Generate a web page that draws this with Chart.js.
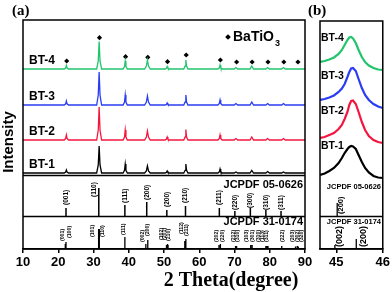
<!DOCTYPE html>
<html>
<head>
<meta charset="utf-8">
<script src="https://cdn.jsdelivr.net/npm/chart.js@4.4.1/dist/chart.umd.min.js"></script>
<style>
body { margin: 0; background: #fff; }
#wrap { position: relative; width: 392px; height: 292px; background: #fff; }
canvas { position: absolute; left: 0; top: 0; }
</style>
</head>
<body>
<div id="wrap">
<canvas id="chartA" width="392" height="292"></canvas>
<canvas id="chartB" width="392" height="292"></canvas>
</div>
<script>
// ---- panel (a) patterns, 2theta in degrees, intensity above each baseline ----
const theta = [10,
  21.7, 22.1, 22.3, 22.5, 22.9,
  30.9, 31.35, 31.6, 31.85, 32.3,
  38.4, 38.8, 39.0, 39.2, 39.6,
  44.5, 45.0, 45.3, 45.6, 46.1,
  50.3, 50.7, 50.9, 51.1, 51.5,
  55.6, 56.0, 56.2, 56.4, 56.8,
  65.3, 65.7, 65.9, 66.1, 66.5,
  69.9, 70.4, 70.9,
  74.4, 74.9, 75.4,
  78.9, 79.4, 79.9,
  83.4, 83.9, 84.4,
  90];
const bt1 = [0, 0,1,3,1,0, 0,8,27,8,0, 0,2.7,9,2.7,0, 0,2,7,2,0, 0,0.6,2,0.6,0, 0,2.7,9,2.7,0, 0,1.2,4,1.2,0, 0,1,0, 0,2.5,0, 0,1.5,0, 0,1,0, 0];
const bt2 = [0, 0,1.5,5,1.5,0, 0,10,33,10,0, 0,3,10,3,0, 0,3,9,3,0, 0,1,3,1,0, 0,3,10.5,3,0, 0,1.5,5,1.5,0, 0,1.5,0, 0,3,0, 0,1.5,0, 0,1.5,0, 0];
const bt3 = [0, 0,1.2,4,1.2,0, 0,10,33,10,0, 0,3,10,3,0, 0,3,9,3,0, 0,0.6,2,0.6,0, 0,3,10,3,0, 0,1.5,5,1.5,0, 0,1.5,0, 0,3,0, 0,1.5,0, 0,1.5,0, 0];
const bt4 = [0, 0,1,3.5,1,0, 0,8,27.5,8,0, 0,2.5,8,2.5,0, 0,3,9,3,0, 0,0.8,2.5,0.8,0, 0,3,9,3,0, 0,1.2,4,1.2,0, 0,1.5,0, 0,3,0, 0,1.5,0, 0,1.5,0, 0];
const names = ["BT-1", "BT-2", "BT-3", "BT-4"];
const offsets = [76, 109, 144, 180];

// BaTiO3 markers over BT-4
const diamondX = [22.4, 31.7, 39.1, 45.4, 51.0, 56.3, 66.0, 70.6, 75.0, 79.5, 84.0, 88.0];
const diamondY = [188, 211.3, 192.3, 191.7, 187.3, 194, 189, 187, 187, 187, 187, 187];

// JCPDF 05-0626 (cubic)
const cubicPos = [22.2, 31.5, 38.9, 45.1, 50.8, 56.1, 65.7, 70.1, 74.5, 78.9, 83.2];
const cubicH = [8, 28, 11, 14, 6, 10, 8, 5, 8, 6, 5];
const cubicHkl = ["(001)", "(110)", "(111)", "(200)", "(200)", "(210)", "(211)", "(220)", "(300)", "(310)", "(311)"];
const cubicLabelX = [22.2, 30.3, 38.9, 45.1, 50.8, 56.1, 65.7, 70.1, 74.5, 78.9, 83.2];
const cubicLabelY = [44, 52, 46, 49, 42, 46, 44, 39, 41, 39, 39];

// JCPDF 31-0174 (tetragonal)
const tetraPos = [22.0, 22.2, 31.45, 31.65, 38.9, 44.85, 45.4, 50.7, 51.0, 51.15, 55.9, 56.2, 65.6, 66.0, 70.3, 70.6, 74.6, 75.0, 78.9, 79.2, 79.5, 83.4, 87.3, 87.8, 88.1];
const tetraH = [5, 7, 20, 20, 12, 5, 9, 4, 5, 4, 8, 10, 4, 5, 3, 3, 4, 4, 3, 3, 3, 3, 2.5, 3, 2.5];
const tetraHkl = ["(001)", "(100)", "(101)", "(110)", "(111)", "(002)", "(200)", "(102)", "(201)", "(210)", "(112)", "(211)", "(202)", "(220)", "(212)", "(310)", "(103)", "(301)", "(310)", "(113)", "(311)", "(222)", "(203)", "(302)", "(320)"];
const tetraLabelX = [21.3, 23.1, 29.8, 32.6, 38.4, 43.9, 45.3, 49.2, 50.3, 51.4, 55.0, 56.4, 65.0, 66.5, 69.6, 71.0, 73.3, 75.0, 76.7, 78.1, 79.2, 83.5, 86.6, 88.0, 89.1];
const tetraLabelY = [8, 11, 12, 12, 14, 7, 13, 9, 9, 8, 15, 13, 7, 7, 7, 7, 7, 7, 7, 7, 7, 7, 7, 7, 7];

const ticksA = [10, 20, 30, 40, 50, 60, 70, 80, 90];
const dividers = [33, 74];

// ---- panel (b) zoom on the 45 degree peak ----
const thetaB = [44.65, 44.75, 44.85, 44.95, 45.05, 45.12, 45.18, 45.24, 45.28, 45.32, 45.36, 45.42, 45.48, 45.55, 45.62, 45.70, 45.80, 45.90, 46.0];
const bt1B = [3, 4.5, 7, 10, 15, 20, 25, 29, 31, 32, 31.5, 29, 23, 16, 10, 5.5, 2, 0.5, 0];
const bt2B = [5, 6, 8, 10, 14, 18, 24, 31, 38, 42, 42.5, 39, 31, 21, 13, 7, 3, 1, 0];
const bt3B = [8, 9, 10.5, 12.5, 16, 19.5, 24, 31, 36, 39.5, 40, 37, 29, 20, 13, 8, 4, 1.5, 0];
const bt4B = [8, 9, 10.5, 12.5, 16, 20, 25, 30, 32.5, 33, 31.5, 27, 20, 13, 8, 4.5, 2, 0.5, 0];
const offsetsB = [71, 106, 141, 179];
const cubicBPos = [45.02];
const cubicBH = [13];
const tetraBPos = [44.97, 45.43];
const tetraBH = [4, 10];
const tetraBHkl = ["(002)", "(200)"];
const tetraBLabelX = [45.08, 45.59];
const ticksB = [45, 46];

const colors = ["#000000", "#f5163f", "#2b3cf3", "#22c46c"];
const SANS = '"Liberation Sans", Arial, sans-serif';
const SERIF = '"Liberation Serif", "Times New Roman", serif';

function pattern(xs, ys, off) {
  return xs.map((t, i) => ({ x: t, y: ys[i] + off }));
}

function sticks(pos, h, base) {
  const pts = [];
  pos.forEach((p, i) => {
    pts.push({ x: p, y: base }, { x: p, y: base + h[i] }, { x: p, y: null });
  });
  return pts;
}

function put(ctx, s, x, y, size, o) {
  o = o || {};
  ctx.save();
  ctx.translate(x, y);
  if (o.rot) ctx.rotate(o.rot);
  ctx.font = "bold " + size + "px " + (o.serif ? SERIF : SANS);
  ctx.textAlign = o.align || "left";
  ctx.textBaseline = o.base || "middle";
  ctx.fillStyle = "#000";
  ctx.fillText(s, 0, 0);
  ctx.restore();
}

function frame(chart) {
  const { ctx, chartArea: a } = chart;
  ctx.save();
  ctx.strokeStyle = "#000";
  ctx.lineWidth = 1.5;
  ctx.strokeRect(a.left, a.top, a.right - a.left, a.bottom - a.top);
  ctx.restore();
}

function hline(chart, v) {
  const { ctx, chartArea: a, scales: { y } } = chart;
  const py = Math.round(y.getPixelForValue(v)) + 0.5;
  ctx.save();
  ctx.strokeStyle = "#000";
  ctx.lineWidth = 1.5;
  ctx.beginPath();
  ctx.moveTo(a.left, py);
  ctx.lineTo(a.right, py);
  ctx.stroke();
  ctx.restore();
}

const annotA = {
  id: "annotA",
  afterDraw(chart) {
    const { ctx, scales: { x, y } } = chart;
    frame(chart);
    dividers.forEach(v => hline(chart, v));
    put(ctx, "(a)", 12, 11, 15, { serif: true });
    put(ctx, "Intensity", 9, 142, 15, { rot: -Math.PI / 2, align: "center" });
    put(ctx, "2 Theta(degree)", 231, 286, 20, { serif: true, align: "center", base: "alphabetic" });
    names.forEach((n, i) => put(ctx, n, x.getPixelForValue(11.7), y.getPixelForValue(offsets[i] + 8.5), 12));
    // legend
    ctx.save();
    ctx.fillStyle = "#000";
    ctx.translate(228, 37);
    ctx.rotate(Math.PI / 4);
    ctx.fillRect(-2, -2, 4, 4);
    ctx.restore();
    ctx.save();
    ctx.font = "bold 14px " + SANS;
    const w = ctx.measureText("BaTiO").width;
    ctx.restore();
    put(ctx, "BaTiO", 233, 37, 14);
    put(ctx, "3", 234 + w, 44, 9);
    put(ctx, "JCPDF 05-0626", 303, 185, 11, { align: "right" });
    put(ctx, "JCPDF 31-0174", 303, 222, 11, { align: "right" });
    cubicHkl.forEach((s, i) => put(ctx, s, x.getPixelForValue(cubicLabelX[i]), y.getPixelForValue(cubicLabelY[i]), 6.5, { rot: -Math.PI / 2 }));
    tetraHkl.forEach((s, i) => put(ctx, s, x.getPixelForValue(tetraLabelX[i]), y.getPixelForValue(tetraLabelY[i]), 5.2, { rot: -Math.PI / 2 }));
  }
};

const annotB = {
  id: "annotB",
  afterDraw(chart) {
    const { ctx, chartArea: a, scales: { x, y } } = chart;
    frame(chart);
    hline(chart, dividers[0]);
    put(ctx, "(b)", 308, 11, 15, { serif: true });
    names.forEach((n, i) => put(ctx, n, a.left + 1, y.getPixelForValue(offsetsB[i] + 32), 10.5));
    put(ctx, "JCPDF 05-0626", 381, 187, 7.5, { align: "right" });
    put(ctx, "JCPDF 31-0174", 381, 222, 7.5, { align: "right" });
    put(ctx, "(200)", x.getPixelForValue(45.1), y.getPixelForValue(35), 7.5, { rot: -Math.PI / 2 });
    tetraBHkl.forEach((s, i) => put(ctx, s, x.getPixelForValue(tetraBLabelX[i]), y.getPixelForValue(2), 9, { rot: -Math.PI / 2 }));
  }
};

function xAxis(min, max, tickVals) {
  return {
    type: "linear",
    min: min,
    max: max,
    afterBuildTicks: s => { s.ticks = tickVals.map(v => ({ value: v })); },
    afterFit: s => { s.height = 43; },
    ticks: { color: "#000", font: { family: SANS, size: 13, weight: "bold" }, padding: 2, maxRotation: 0, autoSkip: false },
    grid: { drawOnChartArea: false, tickLength: 4, color: "#000", lineWidth: 1.5 },
    border: { display: true, color: "#000", width: 1.5 }
  };
}

const line = (data, color, width) => ({
  type: "line", data: data, borderColor: color, borderWidth: width,
  pointRadius: 0, tension: 0, fill: false, spanGaps: false
});

const seriesA = [bt1, bt2, bt3, bt4];
new Chart(document.getElementById("chartA"), {
  type: "line",
  data: {
    datasets: [
      ...seriesA.map((s, i) => line(pattern(theta, s, offsets[i]), colors[i], 1.3)),
      {
        type: "scatter",
        data: diamondX.map((t, i) => ({ x: t, y: diamondY[i] })),
        pointStyle: "rectRot", pointRadius: 2.6, backgroundColor: "#000", borderWidth: 0
      },
      line(sticks(cubicPos, cubicH, dividers[0]), "#000", 1.5),
      line(sticks(tetraPos, tetraH, 0), "#000", 1.3)
    ]
  },
  options: {
    responsive: false,
    animation: false,
    layout: { padding: { left: 23, right: 87, top: 20, bottom: 0 } },
    plugins: { legend: { display: false }, tooltip: { enabled: false } },
    scales: {
      x: xAxis(10, 90, ticksA),
      y: { display: false, min: 0, max: 229 }
    }
  },
  plugins: [annotA]
});

const seriesB = [bt1B, bt2B, bt3B, bt4B];
new Chart(document.getElementById("chartB"), {
  type: "line",
  data: {
    datasets: [
      ...seriesB.map((s, i) => line(pattern(thetaB, s, offsetsB[i]), colors[i], 2.2)),
      line(sticks(cubicBPos, cubicBH, dividers[0]), "#000", 1.3),
      line(sticks(tetraBPos, tetraBH, 0), "#000", 1.3)
    ]
  },
  options: {
    responsive: false,
    animation: false,
    layout: { padding: { left: 320, right: 9, top: 21, bottom: 0 } },
    plugins: { legend: { display: false }, tooltip: { enabled: false } },
    scales: {
      x: xAxis(44.65, 46, ticksB),
      y: { display: false, min: 0, max: 228 }
    }
  },
  plugins: [annotB]
});
</script>
</body>
</html>
